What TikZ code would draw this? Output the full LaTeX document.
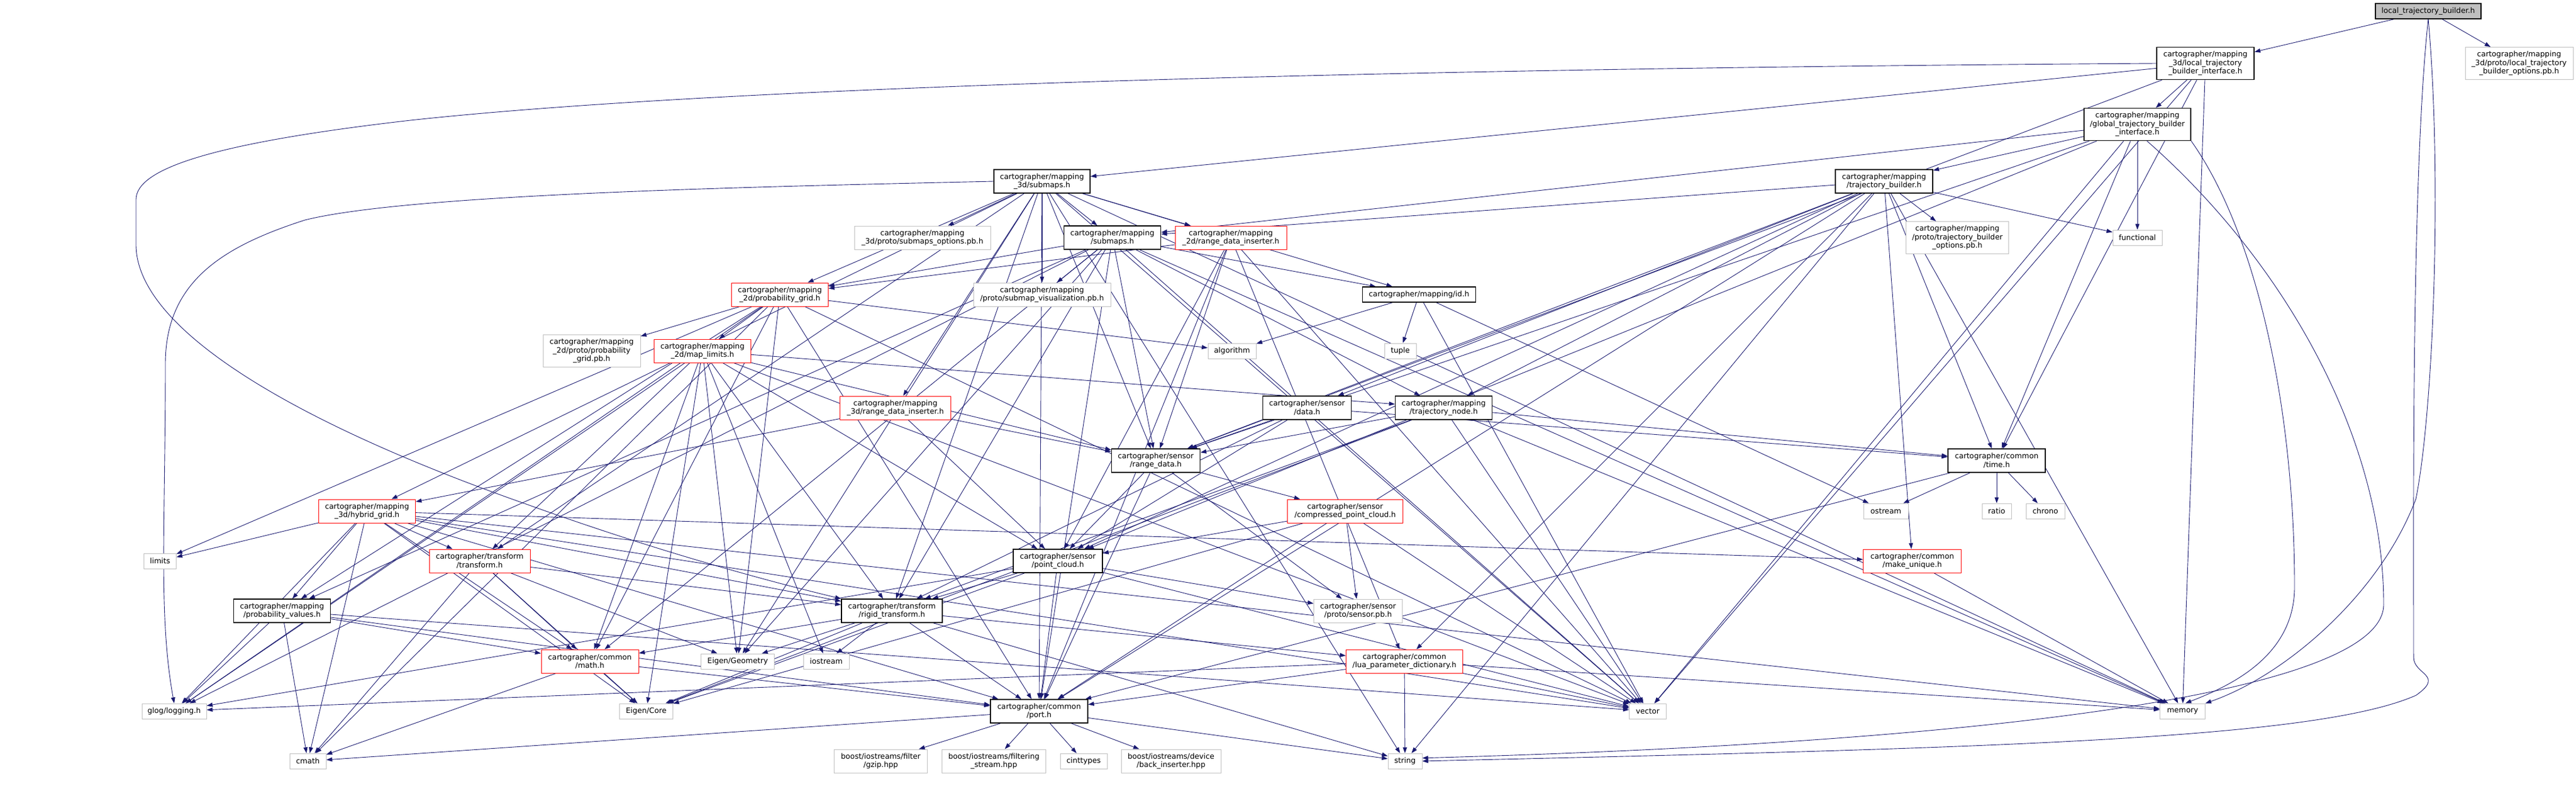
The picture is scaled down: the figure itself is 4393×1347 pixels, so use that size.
\documentclass[tikz,border=0pt]{standalone}
\usepackage{fontspec}
\setmainfont{DejaVu Sans}
\usetikzlibrary{arrows.meta,backgrounds}
\definecolor{edgeblue}{HTML}{191970}
\definecolor{extgray}{HTML}{BFBFBF}
\begin{document}
\begin{tikzpicture}[x=1pt,y=-1pt,
  base/.style={draw, line width=1pt, inner sep=0pt, align=center, fill=white,
    font=\fontsize{12.7pt}{14.5pt}\selectfont},
  docbox/.style={base, draw=black, line width=1.4pt},
  truncbox/.style={base, draw=red},
  extbox/.style={base, draw=extgray},
  topbox/.style={base, draw=black, fill=extgray, line width=1.4pt},
  hA/.style={minimum height=26pt},
  hB/.style={minimum height=40pt},
  hC/.style={minimum height=55pt},
  e/.style={draw=edgeblue, line width=0.9pt, -{Triangle[length=10pt,width=7pt]}},
]
\useasboundingbox (0,0) rectangle (4393,1347);

\node[topbox,hA,minimum width=180pt] (top) at (4141,19) {local\_trajectory\_builder.h};
\node[docbox,hC,minimum width=166pt] (iface) at (3761,108) {cartographer/mapping\\\_3d/local\_trajectory\\\_builder\_interface.h};
\node[extbox,hC,minimum width=184pt] (lopt) at (4296,108) {cartographer/mapping\\\_3d/proto/local\_trajectory\\\_builder\_options.pb.h};
\node[docbox,hC,minimum width=182pt] (glob) at (3645,212) {cartographer/mapping\\/global\_trajectory\_builder\\\_interface.h};
\node[docbox,hB,minimum width=166pt] (tb) at (3213,309) {cartographer/mapping\\/trajectory\_builder.h};
\node[extbox,hC,minimum width=175pt] (tbopt) at (3338,405) {cartographer/mapping\\/proto/trajectory\_builder\\\_options.pb.h};
\node[extbox,hA,minimum width=84pt] (func) at (3645,405) {functional};
\node[docbox,hB,minimum width=164pt] (sm3) at (1777,309) {cartographer/mapping\\\_3d/submaps.h};
\node[extbox,hB,minimum width=232pt] (smopt) at (1573,405) {cartographer/mapping\\\_3d/proto/submaps\_options.pb.h};
\node[docbox,hB,minimum width=165pt] (sm) at (1897,405) {cartographer/mapping\\/submaps.h};
\node[truncbox,hB,minimum width=190pt] (rdi2) at (2099,405) {cartographer/mapping\\\_2d/range\_data\_inserter.h};
\node[truncbox,hB,minimum width=165pt] (pg) at (1330,502) {cartographer/mapping\\\_2d/probability\_grid.h};
\node[extbox,hB,minimum width=234pt] (svis) at (1777,502) {cartographer/mapping\\/proto/submap\_visualization.pb.h};
\node[docbox,hA,minimum width=193pt] (id) at (2420,502) {cartographer/mapping/id.h};
\node[extbox,hC,minimum width=166pt] (pgpb) at (1009,598) {cartographer/mapping\\\_2d/proto/probability\\\_grid.pb.h};
\node[truncbox,hB,minimum width=165pt] (ml) at (1198,598) {cartographer/mapping\\\_2d/map\_limits.h};
\node[extbox,hA,minimum width=82pt] (algo) at (2101,598) {algorithm};
\node[extbox,hA,minimum width=54pt] (tuple) at (2388,598) {tuple};
\node[truncbox,hB,minimum width=189pt] (rdi3) at (1527,695) {cartographer/mapping\\\_3d/range\_data\_inserter.h};
\node[docbox,hB,minimum width=151pt] (data) at (2229,695) {cartographer/sensor\\/data.h};
\node[docbox,hB,minimum width=165pt] (tnode) at (2462,695) {cartographer/mapping\\/trajectory\_node.h};
\node[docbox,hB,minimum width=151pt] (rd) at (1971,785) {cartographer/sensor\\/range\_data.h};
\node[docbox,hB,minimum width=166pt] (time) at (3405,785) {cartographer/common\\/time.h};
\node[truncbox,hB,minimum width=165pt] (hg) at (626,871) {cartographer/mapping\\\_3d/hybrid\_grid.h};
\node[truncbox,hB,minimum width=197pt] (cpc) at (2294,871) {cartographer/sensor\\/compressed\_point\_cloud.h};
\node[extbox,hA,minimum width=76pt] (ostream) at (3216,871) {ostream};
\node[extbox,hA,minimum width=50pt] (ratio) at (3405,871) {ratio};
\node[extbox,hA,minimum width=66pt] (chrono) at (3488,871) {chrono};
\node[extbox,hA,minimum width=55pt] (limits) at (273,956) {limits};
\node[truncbox,hB,minimum width=172pt] (tf) at (818,956) {cartographer/transform\\/transform.h};
\node[docbox,hB,minimum width=152pt] (pc) at (1804,956) {cartographer/sensor\\/point\_cloud.h};
\node[truncbox,hB,minimum width=167pt] (mu) at (3261,956) {cartographer/common\\/make\_unique.h};
\node[docbox,hB,minimum width=165pt] (pv) at (481,1041) {cartographer/mapping\\/probability\_values.h};
\node[docbox,hB,minimum width=172pt] (rt) at (1521,1041) {cartographer/transform\\/rigid\_transform.h};
\node[extbox,hB,minimum width=151pt] (spb) at (2316,1041) {cartographer/sensor\\/proto/sensor.pb.h};
\node[truncbox,hB,minimum width=166pt] (math) at (1006,1127) {cartographer/common\\/math.h};
\node[extbox,hA,minimum width=125pt] (egeo) at (1258,1127) {Eigen/Geometry};
\node[extbox,hA,minimum width=78pt] (iostr) at (1409,1127) {iostream};
\node[truncbox,hB,minimum width=199pt] (lua) at (2395,1127) {cartographer/common\\/lua\_parameter\_dictionary.h};
\node[extbox,hA,minimum width=110pt] (glog) at (297,1212) {glog/logging.h};
\node[extbox,hA,minimum width=91pt] (ecore) at (1102,1212) {Eigen/Core};
\node[docbox,hB,minimum width=166pt] (port) at (1772,1212) {cartographer/common\\/port.h};
\node[extbox,hA,minimum width=63pt] (vector) at (2810,1212) {vector};
\node[extbox,hA,minimum width=77pt] (memory) at (3722,1212) {memory};
\node[extbox,hA,minimum width=62pt] (cmath) at (525,1297) {cmath};
\node[extbox,hB,minimum width=159pt] (gzip) at (1502,1297) {boost/iostreams/filter\\/gzip.hpp};
\node[extbox,hB,minimum width=177pt] (fstream) at (1695,1297) {boost/iostreams/filtering\\\_stream.hpp};
\node[extbox,hA,minimum width=80pt] (cint) at (1848,1297) {cinttypes};
\node[extbox,hB,minimum width=170pt] (backins) at (1997,1297) {boost/iostreams/device\\/back\_inserter.hpp};
\node[extbox,hA,minimum width=58pt] (string) at (2396,1297) {string};

\begin{scope}[on background layer]
\fill[white] (0,0) rectangle (4393,1347);
% long routed connectors
\draw[e] (top.south) .. controls (4165,300) and (4150,700) .. (4120,850) .. controls (4060,1010) and (3900,1150) .. (memory.north east);
\draw[e] (top.south) .. controls (4112,300) and (4116,900) .. (4116,1120) .. controls (4116,1150) and (4170,1150) .. (4120,1185) .. controls (3950,1260) and (3400,1275) .. (string.east);
\draw[e] (iface.west) .. controls (2600,115) and (1300,140) .. (700,205) .. controls (350,245) and (232,290) .. (232,340) -- (232,417) .. controls (232,560) and (500,720) .. (900,860) .. controls (1150,950) and (1350,1000) .. (rt.north west);
\draw[e] (glob.south east) .. controls (3850,400) and (3913,700) .. (3913,1000) .. controls (3913,1120) and (3800,1170) .. (memory.70);
\draw[e] (glob.-60) .. controls (3900,450) and (4065,750) .. (4065,1030) .. controls (4065,1180) and (3400,1265) .. (string.10);
\draw[e] (sm3.west) .. controls (1300,318) and (700,330) .. (520,375) .. controls (380,420) and (282,480) .. (282,620) .. controls (282,900) and (270,1050) .. (glog.north);
% straight connectors
\foreach \t in {iface,lopt} \draw[e] (top) -- (\t);
\foreach \t in {glob,sm3,rd,time,vector,memory} \draw[e] (iface) -- (\t);
\foreach \t in {tb,func,sm,pc,rd,time,vector} \draw[e] (glob) -- (\t);
\foreach \t in {tbopt,func,sm,tnode,data,rd,pc,time,mu,lua,port,memory,string} \draw[e] (tb) -- (\t);
\foreach \t in {smopt,sm,rdi2,rdi3,svis,pg,hg,id,rd,rt,tf,egeo,port,memory,string,vector} \draw[e] (sm3) -- (\t);
\foreach \t in {pg,svis,id,tnode,rd,rt,math,port,pv,egeo,glog,memory,vector} \draw[e] (sm) -- (\t);
\foreach \t in {pg,rd,pc,port,vector,lua} \draw[e] (rdi2) -- (\t);
\foreach \t in {pgpb,ml,algo,limits,glog,cmath,math,port,pv,vector,egeo} \draw[e] (pg) -- (\t);
\foreach \t in {tnode,rd,pc,glog,ecore,egeo,math,rt,tf,vector,iostr} \draw[e] (ml) -- (\t);
\foreach \t in {algo,tuple,vector,ostream} \draw[e] (id) -- (\t);
\foreach \t in {hg,pc,rd} \draw[e] (rdi3) -- (\t);
\foreach \t in {time,rd,pc,rt} \draw[e] (data) -- (\t);
\foreach \t in {time,memory,rd,rt,ecore,vector} \draw[e] (tnode) -- (\t);
\foreach \t in {pc,port,cpc,spb} \draw[e] (rd) -- (\t);
\foreach \t in {pc,spb,vector,port,ecore} \draw[e] (cpc) -- (\t);
\foreach \t in {rt,spb,vector,port,ecore,glog} \draw[e] (pc) -- (\t);
\foreach \t in {ostream,ratio,chrono,port} \draw[e] (time) -- (\t);
\foreach \t in {limits,pv,tf,mu,math,ecore,port,rt,vector,glog,cmath,memory} \draw[e] (hg) -- (\t);
\foreach \t in {rt,math,egeo,ecore,cmath} \draw[e] (tf) -- (\t);
\draw[e] (mu) -- (memory);
\foreach \t in {glog,cmath,math,port,vector} \draw[e] (pv) -- (\t);
\foreach \t in {math,egeo,iostr,ecore,port,string,lua} \draw[e] (rt) -- (\t);
\foreach \t in {cmath,ecore,port} \draw[e] (math) -- (\t);
\foreach \t in {string,vector,memory,glog,port} \draw[e] (lua) -- (\t);
\foreach \t in {gzip,fstream,cint,backins,cmath,string} \draw[e] (port) -- (\t);
\end{scope}
\end{tikzpicture}
\end{document}
